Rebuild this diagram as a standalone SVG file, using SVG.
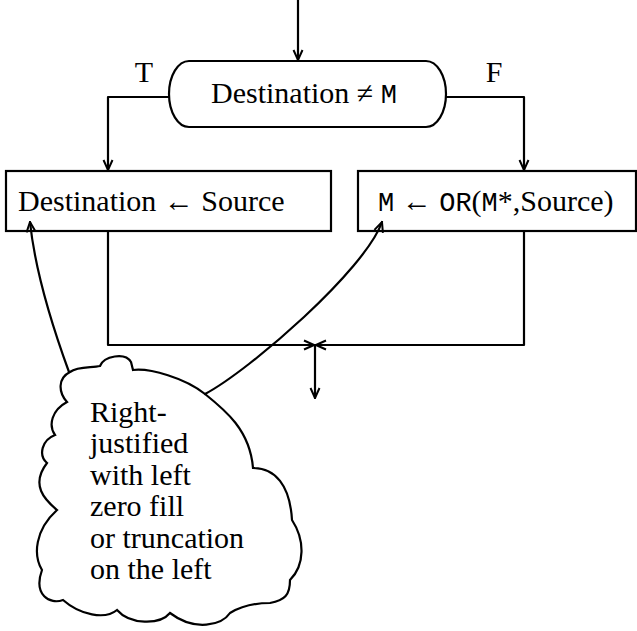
<svg xmlns="http://www.w3.org/2000/svg" width="637" height="631" viewBox="0 0 637 631">
<style>
.ln{stroke:#000;stroke-width:2.2;fill:none;stroke-linejoin:round;stroke-linecap:round}
.sh{stroke:#000;stroke-width:2.2;fill:#fff}
.t{font-family:"Liberation Serif","Times New Roman",serif;font-size:30px;fill:#000}
.m{font-family:"Liberation Mono","DejaVu Sans Mono",monospace;font-size:27px}
</style>
<defs>
<marker id="ah" viewBox="0 0 12 12" refX="11" refY="6" markerWidth="12" markerHeight="12" markerUnits="userSpaceOnUse" orient="auto">
<path d="M1,1.5 L11,6 L1,10.5" fill="none" stroke="#000" stroke-width="2"/>
</marker>
</defs>
<rect width="637" height="631" fill="#fff"/>
<g id="decision">
<rect class="sh" x="169" y="61" width="277" height="66" rx="20" ry="33"/>
<text class="t" x="304" y="103" text-anchor="middle">Destination ≠ <tspan class="m">M</tspan></text>
</g>
<g id="assign-left">
<rect class="sh" x="6" y="171" width="325" height="60"/>
<text class="t" x="18" y="211">Destination ← Source</text>
</g>
<g id="assign-right">
<rect class="sh" x="358" y="171" width="278" height="60"/>
<text class="t" x="378" y="211"><tspan class="m">M</tspan> ← <tspan class="m">OR</tspan>(<tspan class="m">M</tspan>*,Source)</text>
</g>
<g id="note">
<path class="sh" d="M70,372 C78,366 92,368 100,366 C104,356 125,352 131,362 L133,370 C150,368 185,378 205,394 C225,410 250,430 253,468 C275,468 290,485 292,520 C305,540 305,565 290,580 C290,595 285,600 270,603 C255,603 240,607 230,613 C222,625 195,632 170,613 C160,625 130,625 117,610 C105,620 80,615 63,600 C50,605 33,595 42,570 C33,555 35,530 57,510 C45,500 30,485 47,463 C38,455 42,440 55,435 C48,425 52,410 67,402 C58,392 58,378 70,372 Z"/>
<text class="t" x="90" y="422">Right-</text>
<text class="t" x="90" y="453">justified</text>
<text class="t" x="90" y="485">with left</text>
<text class="t" x="90" y="516">zero fill</text>
<text class="t" x="90" y="548">or truncation</text>
<text class="t" x="90" y="579">on the left</text>
</g>
<g id="connectors">
<path class="ln" d="M298,0 L298,60" marker-end="url(#ah)"/>
<path class="ln" d="M169,97 L108,97 L108,170" marker-end="url(#ah)"/>
<path class="ln" d="M446,97 L524,97 L524,170" marker-end="url(#ah)"/>
<path class="ln" d="M108,232 L108,345 L314,345" marker-end="url(#ah)"/>
<path class="ln" d="M524,232 L524,345 L316,345" marker-end="url(#ah)"/>
<path class="ln" d="M315,345 L315,398" marker-end="url(#ah)"/>
<path class="ln" d="M69,372 C50,320 35,270 30,222" marker-end="url(#ah)"/>
<path class="ln" d="M205,394 C250,370 365,270 382,222" marker-end="url(#ah)"/>
<text class="t" x="144" y="82" text-anchor="middle">T</text>
<text class="t" x="494" y="82" text-anchor="middle">F</text>
</g>
</svg>
